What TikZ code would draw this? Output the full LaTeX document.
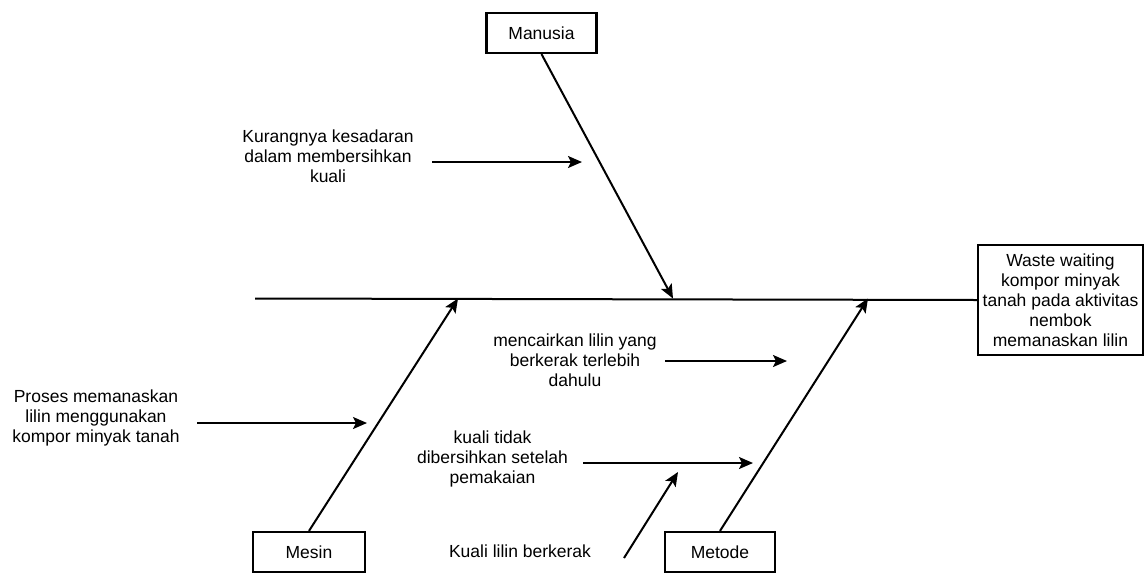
\documentclass[tikz,border=0pt]{standalone}
\usepackage{fontspec}
\setmainfont{Liberation Sans}
\usetikzlibrary{arrows.meta}
\begin{document}
\begin{tikzpicture}[x=1pt,y=-1pt,
  every node/.style={font=\fontsize{17.5}{20}\selectfont, text=black},
  catbox/.style={draw, line width=2.2pt, minimum height=40pt, inner sep=2pt},
  causetext/.style={align=center, inner sep=0pt},
  bone/.style={line width=2pt},
  arrowline/.style={line width=2pt, -{Stealth[length=14pt,width=12pt,inset=3pt]}}
]
\useasboundingbox (0,0) rectangle (1146,574);

% category boxes and effect box
\node[catbox, minimum width=110pt] (manusia) at (541.5,33) {Manusia};
\node[catbox, minimum width=112pt] (mesin) at (309,552) {Mesin};
\node[catbox, minimum width=110pt] (metode) at (720,552) {Metode};
\node[catbox, minimum width=165pt, minimum height=110pt, align=center] (effect) at (1060.5,300)
  {Waste waiting\\kompor minyak\\tanah pada aktivitas\\nembok\\memanaskan lilin};

% spine
\coordinate (spine0) at (255,298.5);
\draw[bone] (spine0) -- (effect.west);

% main bones
\coordinate (jm) at (673,298.5);
\coordinate (js) at (458,298.5);
\coordinate (jt) at (868,298.5);
\draw[arrowline] (manusia.south) -- (jm);
\draw[arrowline] (mesin.north) -- (js);
\draw[arrowline] (metode.north) -- (jt);

% cause texts
\node[causetext] (kurang) at (328,156) {Kurangnya kesadaran\\dalam membersihkan\\kuali};
\node[causetext] (proses) at (96,418) {Proses memanaskan\\lilin menggunakan\\kompor minyak tanah};
\node[causetext] (cair) at (575,360) {mencairkan lilin yang\\berkerak terlebih\\dahulu};
\node[causetext] (tidak) at (492.5,459) {kuali tidak\\dibersihkan setelah\\pemakaian};
\node[causetext] (kerak) at (520,551) {Kuali lilin berkerak};

% cause arrows
\coordinate (a1) at (432,162); \coordinate (b1) at (582,162);
\coordinate (a2) at (197,423); \coordinate (b2) at (367,423);
\coordinate (a3) at (665,361); \coordinate (b3) at (787,361);
\coordinate (a4) at (583,463); \coordinate (b4) at (753,463);
\coordinate (a5) at (624,558); \coordinate (b5) at (678,472);
\draw[arrowline] (a1) -- (b1);
\draw[arrowline] (a2) -- (b2);
\draw[arrowline] (a3) -- (b3);
\draw[arrowline] (a4) -- (b4);
\draw[arrowline] (a5) -- (b5);
\end{tikzpicture}
\end{document}
